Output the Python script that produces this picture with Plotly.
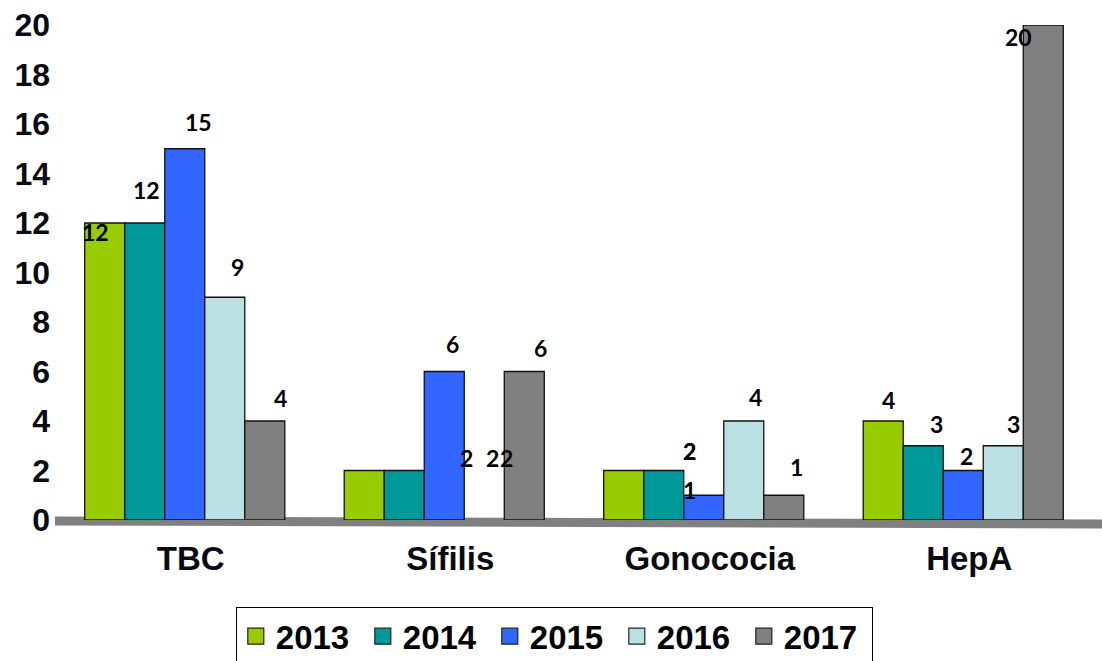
import plotly.graph_objects as go

categories = ["TBC", "Sífilis", "Gonococia", "HepA"]
years = ["2013", "2014", "2015", "2016", "2017"]
v2013 = [12, 2, 2, 4]
v2014 = [12, 2, 2, 3]
v2015 = [15, 6, 1, 2]
v2016 = [9, 2, 4, 3]
v2017 = [4, 6, 1, 20]
# Sífilis 2016 has a label but no visible bar in the reference
visible2016 = [1, 0, 1, 1]

series = [v2013, v2014, v2015, v2016, v2017]
colors = ["#99CC00", "#009999", "#3366FF", "#BAE0E3", "#808080"]

# label offsets (px) relative to the top-centre of each bar: (dx, dy down)
label_offsets = [
    [(-9, 9), (128, -13), (66, -20), (5, -21)],
    [(2, -33), (102, -13), (26, -20), (13, -22)],
    [(14, -27), (8, -28), (-14, -5), (3, -15)],
    [(13, -30), (-18, -13), (12, -24), (10, -22)],
    [(16, -23), (16, -24), (13, -28), (-25, 12)],
]

BAR_PX = 40

fig = go.Figure()
for i, (yr, vals, col) in enumerate(zip(years, series, colors)):
    if yr == "2016":
        op = visible2016
        lw = [1.3 * v for v in visible2016]
    else:
        op = [1] * len(vals)
        lw = 1.3
    fig.add_trace(go.Bar(
        name=yr, x=categories, y=vals, legendgroup=yr, showlegend=False,
        marker=dict(color=col, opacity=op, line=dict(color="#111111", width=lw)),
        hoverinfo="skip",
    ))
# legend entries with larger square swatches
for yr, col in zip(years, colors):
    fig.add_trace(go.Scatter(
        name=yr, x=[None], y=[None], mode="markers", legendgroup=yr,
        marker=dict(symbol="square", size=18, color=col, line=dict(color="#222222", width=1.2)),
        hoverinfo="skip",
    ))

annotations = []
for i, vals in enumerate(series):
    for j, (cat, v) in enumerate(zip(categories, vals)):
        dx, dy = label_offsets[i][j]
        annotations.append(dict(
            x=cat, y=v, xref="x", yref="y", text=str(v), showarrow=False,
            xshift=(i - 2) * BAR_PX + dx, yshift=-dy, yanchor="middle", xanchor="center",
            font=dict(family="Lato", size=23, color="#000000", weight="bold"),
        ))

fig.update_layout(
    width=1102, height=661,
    margin=dict(l=55, r=9, t=25, b=141),
    paper_bgcolor="white", plot_bgcolor="white",
    barmode="group", bargap=0.229, bargroupgap=0,
    font=dict(family="Liberation Sans", color="#0a0a14"),
    showlegend=True,
    legend=dict(
        orientation="h", x=0.503, xanchor="center", xref="container",
        y=0.0817, yanchor="top", yref="container",
        bordercolor="#000000", borderwidth=1.2, bgcolor="white",
        font=dict(family="Liberation Sans", size=33, color="#000000", weight="bold"),
        entrywidth=82, entrywidthmode="pixels", itemwidth=30, tracegroupgap=0,
    ),
    annotations=annotations,
    shapes=[dict(
        type="line", xref="paper", yref="paper", x0=0, x1=1.01, y0=-0.002, y1=-0.008,
        line=dict(color="#808080", width=9), layer="below",
    )],
)
fig.update_xaxes(
    showline=False, showgrid=False, zeroline=False, ticks="", automargin=False,
    tickfont=dict(family="Liberation Sans", size=33, color="#0a0a14", weight="bold"),
    ticklabelstandoff=16, ticklabelshift=6,
)
fig.update_yaxes(
    range=[0, 20], tickvals=list(range(0, 21, 2)), automargin=False,
    showline=False, showgrid=False, zeroline=False, ticks="",
    tickfont=dict(family="Liberation Sans", size=32, color="#0a0a14", weight="bold"),
    ticklabelstandoff=4,
)

fig.write_html(
    "out.html",
    config={"displayModeBar": False},
    post_script="document.body.style.margin='0';document.body.style.overflow='hidden';",
)
